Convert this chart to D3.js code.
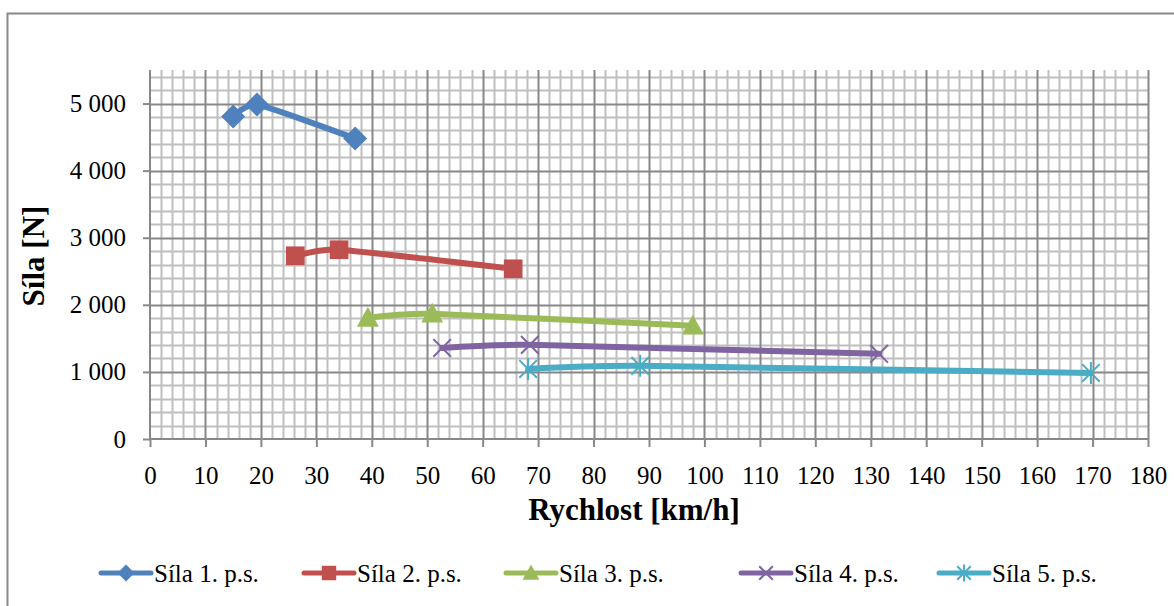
<!DOCTYPE html>
<html>
<head>
<meta charset="utf-8">
<script src="https://cdn.jsdelivr.net/npm/d3@7"></script>
<style>
    body { margin: 0; background: #fff; }
    svg text { font-family: "Liberation Serif", "Times New Roman", serif; fill: #000; }
</style>
</head>
<body>
<div id="containerChart"></div>
<script>
    var seriesNames = ["Síla 1. p.s.", "Síla 2. p.s.", "Síla 3. p.s.", "Síla 4. p.s.", "Síla 5. p.s."];
    var seriesColors = ["#4F81BD", "#C0504D", "#9BBB59", "#8064A2", "#4BACC6"];
    var seriesMarkers = ["diamond", "square", "triangle", "x", "star"];
    var speed1 = [15.0, 19.3, 37.0];
    var force1 = [4806, 4985, 4478];
    var speed2 = [26.2, 34.1, 65.5];
    var force2 = [2731, 2821, 2537];
    var speed3 = [39.3, 50.9, 97.9];
    var force3 = [1806, 1866, 1687];
    var speed4 = [52.7, 68.5, 131.5];
    var force4 = [1358, 1403, 1269];
    var speed5 = [68.2, 88.4, 169.7];
    var force5 = [1045, 1090, 985];
    var xTicks = d3.range(0, 181, 10);
    var yTicks = [0, 1000, 2000, 3000, 4000, 5000];

    var speeds = [speed1, speed2, speed3, speed4, speed5];
    var forces = [force1, force2, force3, force4, force5];

    var width = 1174, height = 606;
    var plotLeft = 150, plotRight = 1148, plotTop = 70, plotBottom = 439;

    var svg = d3.select("#containerChart").append("svg")
        .attr("width", width).attr("height", height);

    // chart border
    svg.append("rect")
        .attr("x", 7.5).attr("y", 13.5)
        .attr("width", 1180).attr("height", 620)
        .attr("fill", "none").attr("stroke", "#888").attr("stroke-width", 2);

    var xScale = d3.scaleLinear().domain([0, 180]).range([plotLeft, plotRight]);
    var yScale = d3.scaleLinear().domain([0, 5500]).range([plotBottom, plotTop]);

    // minor grid
    var grid = svg.append("g");
    grid.selectAll(".vminor").data(d3.range(0, 181, 2).filter(function (d) { return d % 10 != 0; }))
        .enter().append("line")
        .attr("x1", function (d) { return Math.round(xScale(d)) + 0.5; })
        .attr("x2", function (d) { return Math.round(xScale(d)) + 0.5; })
        .attr("y1", plotTop).attr("y2", plotBottom)
        .attr("stroke", "#bfbfbf").attr("stroke-width", 2);
    grid.selectAll(".hminor").data(d3.range(200, 5501, 200).filter(function (d) { return d % 1000 != 0; }))
        .enter().append("line")
        .attr("y1", function (d) { return Math.round(yScale(d)) + 0.5; })
        .attr("y2", function (d) { return Math.round(yScale(d)) + 0.5; })
        .attr("x1", plotLeft).attr("x2", plotRight)
        .attr("stroke", "#bfbfbf").attr("stroke-width", 2);
    // major grid
    grid.selectAll(".vmajor").data(xTicks.slice(1))
        .enter().append("line")
        .attr("x1", function (d) { return Math.round(xScale(d)) + 0.5; })
        .attr("x2", function (d) { return Math.round(xScale(d)) + 0.5; })
        .attr("y1", plotTop).attr("y2", plotBottom)
        .attr("stroke", "#888").attr("stroke-width", 2);
    grid.selectAll(".hmajor").data(yTicks.slice(1))
        .enter().append("line")
        .attr("y1", function (d) { return Math.round(yScale(d)) + 0.5; })
        .attr("y2", function (d) { return Math.round(yScale(d)) + 0.5; })
        .attr("x1", plotLeft).attr("x2", plotRight)
        .attr("stroke", "#888").attr("stroke-width", 2);

    // axes
    var fmt = function (d) { return d3.format(",")(d).replace(/,/g, " "); };
    var yAxis = svg.append("g")
        .attr("transform", "translate(" + plotLeft + ",0)")
        .call(d3.axisLeft(yScale).tickValues(yTicks).tickFormat(fmt).tickSize(7).tickPadding(17));
    var xAxis = svg.append("g")
        .attr("transform", "translate(0," + plotBottom + ")")
        .call(d3.axisBottom(xScale).tickValues(xTicks).tickSize(8).tickPadding(19));
    [xAxis, yAxis].forEach(function (ax) {
        ax.select(".domain").attr("stroke", "#888").attr("stroke-width", 2);
        ax.selectAll(".tick line").attr("stroke", "#888").attr("stroke-width", 2);
        ax.selectAll("text").style("font-size", "25px").style("font-family", "'Liberation Serif', serif");
    });
    yAxis.select(".domain").attr("d", "M0," + plotTop + "V" + plotBottom);
    xAxis.select(".domain").attr("d", "M" + plotLeft + ",0H" + plotRight);

    // axis titles
    svg.append("text")
        .attr("x", 634).attr("y", 520)
        .attr("text-anchor", "middle")
        .style("font-size", "31px").style("font-weight", "bold")
        .text("Rychlost [km/h]");
    svg.append("text")
        .attr("transform", "translate(44,256) rotate(-90)")
        .attr("text-anchor", "middle")
        .style("font-size", "31px").style("font-weight", "bold")
        .text("Síla [N]");

    function drawMarker(g, type, color, size) {
        var s = size / 2;
        if (type == "diamond") {
            g.append("path").attr("d", "M0," + (-s) + "L" + s + ",0L0," + s + "L" + (-s) + ",0Z").attr("fill", color);
        } else if (type == "square") {
            g.append("rect").attr("x", -s * 0.85).attr("y", -s * 0.85).attr("width", s * 1.7).attr("height", s * 1.7).attr("fill", color);
        } else if (type == "triangle") {
            g.append("path").attr("d", "M0," + (-s) + "L" + s + "," + (s * 0.8) + "L" + (-s) + "," + (s * 0.8) + "Z").attr("fill", color);
        } else if (type == "x") {
            var k = s * 0.8;
            g.append("path").attr("d", "M" + (-k) + "," + (-k) + "L" + k + "," + k + "M" + (-k) + "," + k + "L" + k + "," + (-k))
                .attr("stroke", color).attr("stroke-width", 2).attr("fill", "none");
        } else if (type == "star") {
            var k2 = s * 0.8;
            g.append("path").attr("d", "M" + (-k2) + "," + (-k2) + "L" + k2 + "," + k2 + "M" + (-k2) + "," + k2 + "L" + k2 + "," + (-k2) + "M0," + (-s) + "L0," + s)
                .attr("stroke", color).attr("stroke-width", 2).attr("fill", "none");
        }
    }

    // series (Excel-like smoothed lines)
    var line = d3.line()
        .x(function (d) { return xScale(d[0]); })
        .y(function (d) { return yScale(d[1]); })
        .curve(d3.curveCardinal.tension(0.5));
    var markerSizes = [24, 22, 22, 22, 22];
    seriesNames.forEach(function (name, i) {
        var pts = speeds[i].map(function (v, j) { return [v, forces[i][j]]; });
        svg.append("path")
            .datum(pts)
            .attr("d", line)
            .attr("fill", "none")
            .attr("stroke", seriesColors[i])
            .attr("stroke-width", 6)
            .attr("stroke-linecap", "round");
        pts.forEach(function (p) {
            var g = svg.append("g").attr("transform", "translate(" + xScale(p[0]) + "," + yScale(p[1]) + ")");
            drawMarker(g, seriesMarkers[i], seriesColors[i], markerSizes[i]);
        });
    });

    // legend
    var legendX = [101, 304, 506, 741, 939];
    seriesNames.forEach(function (name, i) {
        var g = svg.append("g").attr("transform", "translate(" + legendX[i] + ",573)");
        g.append("line").attr("x1", 0).attr("x2", 50).attr("y1", 0).attr("y2", 0)
            .attr("stroke", seriesColors[i]).attr("stroke-width", 5).attr("stroke-linecap", "round");
        var m = g.append("g").attr("transform", "translate(25,0)");
        drawMarker(m, seriesMarkers[i], seriesColors[i], 17);
        g.append("text").attr("x", 53).attr("y", 9)
            .style("font-size", "25px")
            .text(name);
    });
</script>
</body>
</html>
